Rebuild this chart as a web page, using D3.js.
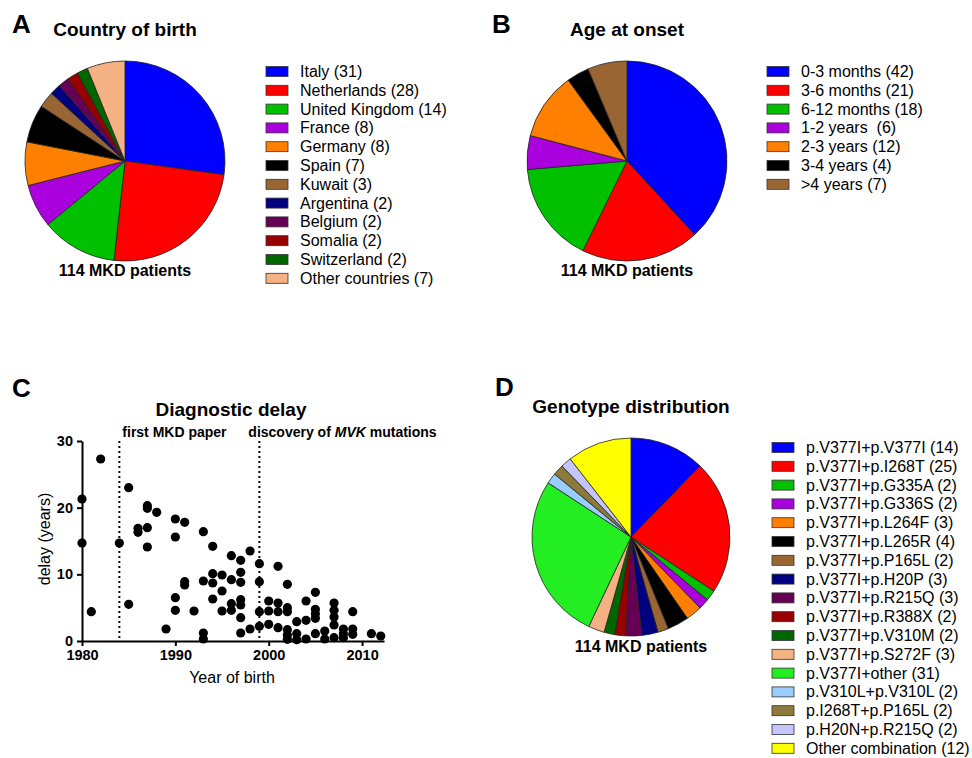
<!doctype html>
<html>
  <head>
    <meta charset="utf-8">
    <title>MKD patients</title>
    <script src="https://cdn.jsdelivr.net/npm/d3@7"></script>
    <style>
      html, body { margin:0; padding:0; background:#fff; overflow:hidden }
      svg { display:block; font-family:"Liberation Sans", Arial, sans-serif }
      text { white-space:pre }
      .slice { stroke:#222; stroke-width:0.8 }
      .swatch { stroke:#333; stroke-width:0.8 }
      .axis path, .axis line { stroke:#000; stroke-width:2 }
      .axis text { font-family:"Liberation Sans", Arial, sans-serif; font-size:14.5px; font-weight:bold; fill:#000 }
    </style>
  </head>
  <body>
    <svg width="972" height="758"></svg>
    <script>
      // A: country of birth
      var countries = ["Italy (31)", "Netherlands (28)", "United Kingdom (14)", "France (8)",
        "Germany (8)", "Spain (7)", "Kuwait (3)", "Argentina (2)", "Belgium (2)",
        "Somalia (2)", "Switzerland (2)", "Other countries (7)"];
      var countryCounts = [31, 28, 14, 8, 8, 7, 3, 2, 2, 2, 2, 7];
      var countryColors = ["#0000ff", "#ff0000", "#00c000", "#aa00dd", "#ff8000", "#000000",
        "#996633", "#000080", "#660055", "#990000", "#006600", "#f4b183"];

      // B: age at onset
      var onsets = ["0-3 months (42)", "3-6 months (21)", "6-12 months (18)", "1-2 years  (6)",
        "2-3 years (12)", "3-4 years (4)", ">4 years (7)"];
      var onsetCounts = [42, 21, 18, 6, 12, 4, 7];
      var onsetColors = ["#0000ff", "#ff0000", "#00c000", "#aa00dd", "#ff8000", "#000000", "#996633"];

      // D: genotype distribution
      var genotypes = ["p.V377I+p.V377I (14)", "p.V377I+p.I268T (25)", "p.V377I+p.G335A (2)",
        "p.V377I+p.G336S (2)", "p.V377I+p.L264F (3)", "p.V377I+p.L265R (4)", "p.V377I+p.P165L (2)",
        "p.V377I+p.H20P (3)", "p.V377I+p.R215Q (3)", "p.V377I+p.R388X (2)", "p.V377I+p.V310M (2)",
        "p.V377I+p.S272F (3)", "p.V377I+other (31)", "p.V310L+p.V310L (2)", "p.I268T+p.P165L (2)",
        "p.H20N+p.R215Q (2)", "Other combination (12)"];
      var genotypeCounts = [14, 25, 2, 2, 3, 4, 2, 3, 3, 2, 2, 3, 31, 2, 2, 2, 12];
      var genotypeColors = ["#0000ff", "#ff0000", "#00c000", "#aa00dd", "#ff8000", "#000000",
        "#996633", "#000080", "#660055", "#990000", "#006600", "#f4b183", "#22ee22", "#99ccff",
        "#8c7a3a", "#c4c4ff", "#ffff00"];

      // C: diagnostic delay (year of birth, delay in years)
      var birthYears = [1980, 1980, 1981, 1982, 1984, 1985, 1985, 1986, 1986,
        1987, 1987, 1987, 1987, 1988, 1989, 1990, 1990, 1990, 1990, 1991, 1991, 1991,
        1992, 1993, 1993, 1993, 1993, 1994, 1994, 1994, 1994, 1995, 1995, 1995,
        1996, 1996, 1996, 1996, 1997, 1997, 1997, 1997, 1997, 1997, 1997, 1998, 1998,
        1999, 1999, 1999, 1999, 2000, 2000, 2000, 2001, 2001, 2001, 2001,
        2002, 2002, 2002, 2002, 2002, 2002, 2003, 2003, 2003, 2004, 2004, 2004,
        2005, 2005, 2005, 2005, 2005, 2006, 2006, 2007, 2007, 2007, 2007, 2007,
        2008, 2008, 2008, 2009, 2009, 2009, 2011, 2012];
      var delays = [21.3, 14.7, 4.4, 27.3, 14.7, 23.0, 5.5, 16.9, 16.3,
        20.3, 19.9, 17.0, 14.1, 19.3, 1.8, 18.3, 15.6, 6.5, 4.6, 17.8, 8.9, 8.4,
        4.5, 16.4, 9.0, 1.2, 0.3, 14.2, 10.1, 8.7, 6.3, 9.9, 7.5, 4.5,
        12.8, 9.2, 5.6, 4.6, 12.1, 10.3, 8.8, 6.2, 5.4, 3.5, 1.2, 13.5, 1.8,
        11.6, 8.9, 4.4, 2.2, 6.0, 4.5, 2.5, 11.2, 5.7, 4.4, 2.0,
        8.5, 5.0, 4.4, 1.7, 0.9, 0.25, 2.9, 1.1, 0.2, 6.0, 3.1, 0.3,
        7.3, 4.75, 4.1, 3.4, 1.1, 1.5, 0.3, 5.7, 4.6, 3.6, 2.4, 0.5,
        1.8, 1.1, 0.5, 4.4, 1.8, 1.0, 1.1, 0.75];
      var yearTicks = [1980, 1990, 2000, 2010];
      var delayTicks = [0, 10, 20, 30];
      var landmarks = [1984, 1999];

      var svg = d3.select("svg");

      function label(x, y, s) {
        svg.append("text").attr("x", x).attr("y", y)
          .attr("font-size", 26).attr("font-weight", "bold").text(s);
      }

      function pieChart(cx, cy, r, counts, colors) {
        var pie = d3.pie().sort(null).value(function(d) { return d; });
        var arc = d3.arc().innerRadius(0).outerRadius(r);
        svg.append("g").attr("transform", "translate(" + cx + "," + cy + ")")
          .selectAll("path").data(pie(counts)).enter().append("path")
          .attr("class", "slice")
          .attr("d", arc)
          .attr("fill", function(d, i) { return colors[i]; });
      }

      function legend(x, y, names, colors) {
        var g = svg.append("g").attr("transform", "translate(" + x + "," + y + ")");
        var row = g.selectAll("g").data(names).enter().append("g")
          .attr("transform", function(d, i) { return "translate(0," + (i * 18.8) + ")"; });
        row.append("rect").attr("class", "swatch")
          .attr("x", 0).attr("y", -5).attr("width", 22).attr("height", 10)
          .attr("fill", function(d, i) { return colors[i]; });
        row.append("text").attr("x", 34).attr("y", 5.5)
          .attr("font-size", 16).text(function(d) { return d; });
      }

      function title(x, y, s) {
        svg.append("text").attr("x", x).attr("y", y).attr("text-anchor", "middle")
          .attr("font-size", 19).attr("font-weight", "bold").text(s);
      }

      function patients(x, y) {
        svg.append("text").attr("x", x).attr("y", y).attr("text-anchor", "middle")
          .attr("font-size", 16).attr("font-weight", "bold").text("114 MKD patients");
      }

      // panel A
      label(12, 33, "A");
      title(125, 36, "Country of birth");
      pieChart(125, 161, 100, countryCounts, countryColors);
      patients(125, 276);
      legend(266, 71.5, countries, countryColors);

      // panel B
      label(492, 33, "B");
      title(627, 36, "Age at onset");
      pieChart(627, 161, 100, onsetCounts, onsetColors);
      patients(627, 276);
      legend(767, 71.5, onsets, onsetColors);

      // panel D
      label(495, 396, "D");
      title(631, 413, "Genotype distribution");
      pieChart(631, 537, 99, genotypeCounts, genotypeColors);
      patients(641, 652);
      legend(772, 447.5, genotypes, genotypeColors);

      // panel C
      label(12, 397, "C");
      var x = d3.scaleLinear().domain([1980, 2012.35]).range([82, 384]);
      var y = d3.scaleLinear().domain([0, 30]).range([641, 441]);

      svg.append("g").attr("class", "axis")
        .attr("transform", "translate(0," + y(0) + ")")
        .call(d3.axisBottom(x).tickValues(yearTicks).tickFormat(d3.format("d"))
          .tickSize(5).tickSizeOuter(0).tickPadding(4));
      svg.append("g").attr("class", "axis")
        .attr("transform", "translate(" + x(1980) + ",0)")
        .call(d3.axisLeft(y).tickValues(delayTicks).tickSize(5).tickSizeOuter(0).tickPadding(4));

      svg.selectAll(".landmark").data(landmarks).enter().append("line")
        .attr("class", "landmark")
        .attr("x1", function(d) { return x(d); }).attr("x2", function(d) { return x(d); })
        .attr("y1", y(30)).attr("y2", y(0))
        .attr("stroke", "#000").attr("stroke-width", 2).attr("stroke-dasharray", "2,3");

      svg.append("g").selectAll("circle").data(birthYears).enter().append("circle")
        .attr("cx", function(d) { return x(d); })
        .attr("cy", function(d, i) { return y(delays[i]); })
        .attr("r", 4.6).attr("fill", "#000");

      title(231, 416, "Diagnostic delay");
      svg.append("text").attr("x", x(1984) + 3).attr("y", 437)
        .attr("font-size", 14).attr("font-weight", "bold").text("first MKD paper");
      var disc = svg.append("text").attr("x", x(1999) - 11).attr("y", 437)
        .attr("font-size", 14).attr("font-weight", "bold");
      disc.append("tspan").text("discovery of ");
      disc.append("tspan").attr("font-style", "italic").text("MVK");
      disc.append("tspan").text(" mutations");

      svg.append("text").attr("x", 232).attr("y", 683).attr("text-anchor", "middle")
        .attr("font-size", 16).text("Year of birth");
      svg.append("text").attr("transform", "translate(50,539) rotate(-90)")
        .attr("text-anchor", "middle").attr("font-size", 16).text("delay (years)");
    </script>
  </body>
</html>
